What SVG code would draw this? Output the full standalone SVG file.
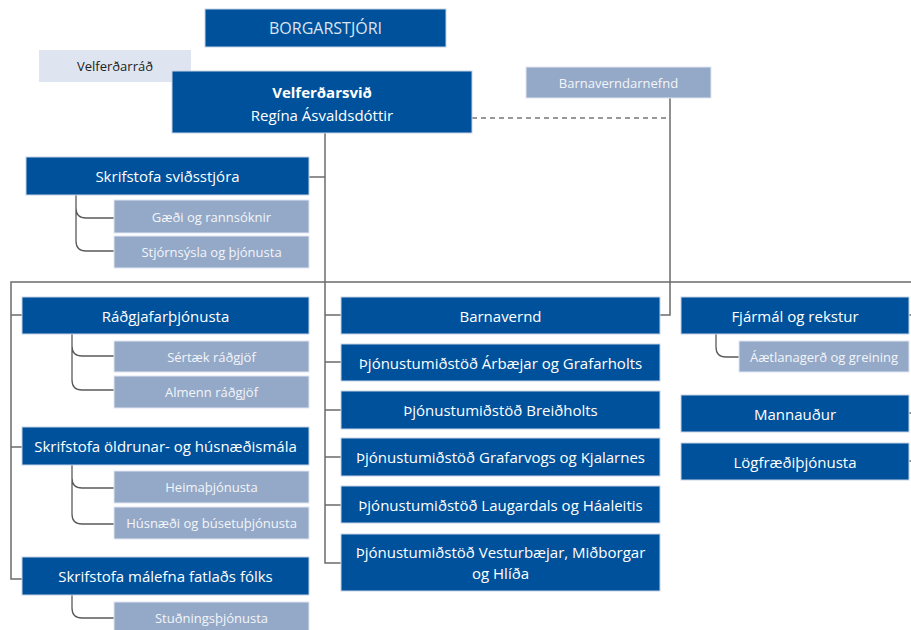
<svg xmlns="http://www.w3.org/2000/svg" width="911" height="630" viewBox="0 0 911 630">
<style>
.d{fill:#00519b;stroke:#c5d3e8;stroke-width:1}
.l{fill:#94a9c8;stroke:#dfe6f1;stroke-width:1}
.p{fill:#dfe5f0}
.t{font-family:"Open Sans","Liberation Sans",sans-serif;font-size:15px;fill:#fff;text-anchor:middle;dominant-baseline:central}
.s{font-family:"Open Sans","Liberation Sans",sans-serif;font-size:13px;fill:#f3f5f9;text-anchor:middle;dominant-baseline:central}
.k{fill:#222}
.b{font-weight:bold}
.c{fill:none;stroke:#6b6b6b;stroke-width:1.5}
.sc{fill:none;stroke:#5a5a5a;stroke-width:1.3}
.dash{fill:none;stroke:#333;stroke-width:1.2;stroke-dasharray:5,4}
</style>
<g id="connectors">
<path class="dash" d="M472 118 H670"/>
<path class="c" d="M325 133 V282"/>
<path class="c" d="M309 177 H325"/>
<path class="c" d="M911 282 H11 V579 H22"/>
<path class="c" d="M11 315 H22 M11 447 H22"/>
<path class="c" d="M325 282 V563 H341 M325 315 H341 M325 362 H341 M325 410 H341 M325 457 H341 M325 505 H341"/>
<path class="c" d="M670 98 V315 H660"/>
<path class="c" d="M909 315 H911 M909 413 H911 M909 461 H911"/>
<path class="sc" d="M76 195 V208 Q76 218 86 218 H114 M76 208 V241 Q76 251 86 251 H114"/>
<path class="sc" d="M72 334 V346 Q72 356 82 356 H114 M72 346 V380 Q72 390 82 390 H114"/>
<path class="sc" d="M72 465 V478 Q72 488 82 488 H114 M72 478 V514 Q72 524 82 524 H114"/>
<path class="sc" d="M72 595 V608 Q72 618 82 618 H114"/>
<path class="sc" d="M716 334 V347 Q716 357 726 357 H739"/>
</g>
<g id="borgarstjori"><rect class="d" x="205" y="9" width="241" height="38"/><text class="t" x="325.5" y="28" style="fill:#dde4f0;font-size:16px">BORGARSTJÓRI</text></g>
<g id="velferdarrad"><rect class="p" x="39" y="50" width="152" height="32"/><text class="s k" x="115" y="66">Velferðarráð</text></g>
<g id="velferdarsvid"><rect class="d" x="172" y="71" width="300" height="62"/><text class="t b" x="322" y="92">Velferðarsvið</text><text class="t" x="322" y="115">Regína Ásvaldsdóttir</text></g>
<g id="barnaverndarnefnd"><rect class="l" x="526" y="67" width="185" height="31"/><text class="s" x="618.5" y="82.5">Barnaverndarnefnd</text></g>
<g id="skrifstofa-svidsstjora"><rect class="d" x="26" y="157" width="283" height="38"/><text class="t" x="167.5" y="176">Skrifstofa sviðsstjóra</text></g>
<g id="gaedi"><rect class="l" x="114" y="200" width="195" height="33"/><text class="s" x="211.5" y="216.5">Gæði og rannsóknir</text></g>
<g id="stjornsysla"><rect class="l" x="114" y="236" width="195" height="32"/><text class="s" x="211.5" y="252">Stjórnsýsla og þjónusta</text></g>
<g id="radgjafarthjonusta"><rect class="d" x="22" y="297" width="287" height="37"/><text class="t" x="165.5" y="315.5">Ráðgjafarþjónusta</text></g>
<g id="sertaek"><rect class="l" x="114" y="341" width="195" height="31"/><text class="s" x="211.5" y="356.5">Sértæk ráðgjöf</text></g>
<g id="almenn"><rect class="l" x="114" y="376" width="195" height="32"/><text class="s" x="211.5" y="392">Almenn ráðgjöf</text></g>
<g id="oldrunar"><rect class="d" x="22" y="427" width="287" height="38"/><text class="t" x="165.5" y="446">Skrifstofa öldrunar- og húsnæðismála</text></g>
<g id="heimathjonusta"><rect class="l" x="114" y="471" width="195" height="32"/><text class="s" x="211.5" y="487">Heimaþjónusta</text></g>
<g id="husnaedi"><rect class="l" x="114" y="507" width="195" height="32"/><text class="s" x="211.5" y="523">Húsnæði og búsetuþjónusta</text></g>
<g id="fatlads"><rect class="d" x="22" y="557" width="287" height="38"/><text class="t" x="165.5" y="576">Skrifstofa málefna fatlaðs fólks</text></g>
<g id="studnings"><rect class="l" x="114" y="602" width="195" height="32"/><text class="s" x="211.5" y="618">Stuðningsþjónusta</text></g>
<g id="barnavernd"><rect class="d" x="341" y="297" width="319" height="37"/><text class="t" x="500.5" y="315.5">Barnavernd</text></g>
<g id="arbaejar"><rect class="d" x="341" y="344" width="319" height="37"/><text class="t" x="500.5" y="362.5">Þjónustumiðstöð Árbæjar og Grafarholts</text></g>
<g id="breidholts"><rect class="d" x="341" y="391" width="319" height="38"/><text class="t" x="500.5" y="410">Þjónustumiðstöð Breiðholts</text></g>
<g id="grafarvogs"><rect class="d" x="341" y="438" width="319" height="38"/><text class="t" x="500.5" y="457">Þjónustumiðstöð Grafarvogs og Kjalarnes</text></g>
<g id="laugardals"><rect class="d" x="341" y="486" width="319" height="37"/><text class="t" x="500.5" y="504.5">Þjónustumiðstöð Laugardals og Háaleitis</text></g>
<g id="vesturbaejar"><rect class="d" x="341" y="534" width="319" height="57"/><text class="t" x="500.5" y="552">Þjónustumiðstöð Vesturbæjar, Miðborgar</text><text class="t" x="500.5" y="573">og Hlíða</text></g>
<g id="fjarmal"><rect class="d" x="681" y="297" width="228" height="37"/><text class="t" x="795" y="315.5">Fjármál og rekstur</text></g>
<g id="aaetlanagerd"><rect class="l" x="739" y="341" width="170" height="31"/><text class="s" x="824" y="356.5">Áætlanagerð og greining</text></g>
<g id="mannaudur"><rect class="d" x="681" y="395" width="228" height="37"/><text class="t" x="795" y="413.5">Mannauður</text></g>
<g id="logfraedi"><rect class="d" x="681" y="443" width="228" height="37"/><text class="t" x="795" y="461.5">Lögfræðiþjónusta</text></g>
</svg>
